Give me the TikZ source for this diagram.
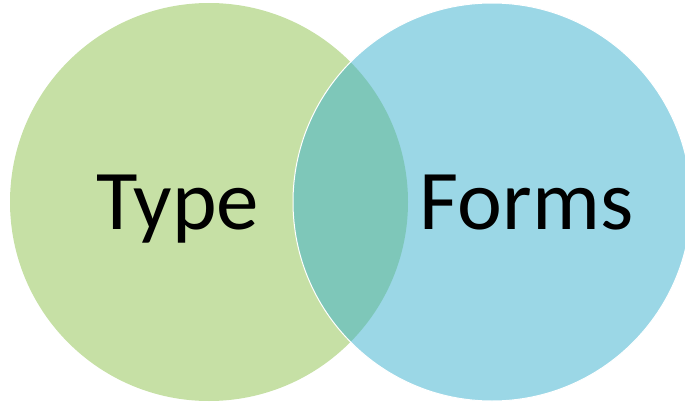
\documentclass[tikz,border=0pt]{standalone}
\usepackage{fontspec}
\setmainfont{Carlito}
\definecolor{vgreen}{RGB}{198,224,165}
\definecolor{vblue}{RGB}{55,175,205}
\begin{document}
\begin{tikzpicture}[x=1pt,y=-1pt,
  setlabel/.style={anchor=base,inner sep=0pt,font=\fontsize{85}{85}\selectfont,text=black}]
\useasboundingbox (0,0) rectangle (685,404);
\fill[vgreen] (209,202) circle[radius=199];
\filldraw[fill=vblue,fill opacity=0.5,draw=white,line width=1pt] (492,202) circle[radius=199];
\node[setlabel] (type) at (177.5,229) {Type};
\node[setlabel] (forms) at (526.5,229) {Forms};
\end{tikzpicture}
\end{document}
